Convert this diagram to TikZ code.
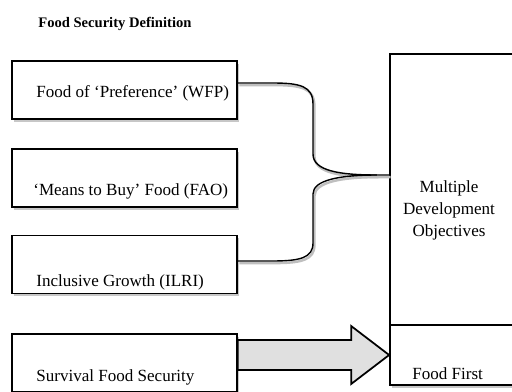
\documentclass[tikz,border=0pt]{standalone}
\usepackage{fontspec}
\setmainfont{Liberation Serif}
\usetikzlibrary{calc,shadows}

\tikzset{
  defbox/.style={draw, line width=1pt, fill=white, minimum width=4.5cm, minimum height=1.16cm,
    drop shadow={shadow xshift=1.2pt, shadow yshift=-1.6pt, fill=black, opacity=0.22}},
  goalbox/.style={draw, line width=1pt, fill=white, minimum width=2.46cm,
    drop shadow={shadow xshift=1.2pt, shadow yshift=-1.6pt, fill=black, opacity=0.22}},
  deftext/.style={inner sep=0pt, anchor=base west, font=\fontsize{9.7}{12}\selectfont},
  brace/.style={line width=0.8pt,
    preaction={draw=black!25, line width=1.4pt, transform canvas={xshift=0.8pt, yshift=-1.2pt}}},
  fatarrow/.style={draw, line width=1pt, fill=black!12, line join=miter}
}

\begin{document}
\begin{tikzpicture}[x=0.02cm, y=-0.02cm]
  \useasboundingbox (0,0) rectangle (512,392);
  \clip (0,0) rectangle (512,392);
  % title
  \node[inner sep=0pt, anchor=base west, font=\fontsize{8.3}{10}\selectfont\bfseries] (title) at (38,28) {Food Security Definition};
  % the four definition boxes
  \node[defbox] (wfp) at (124.5,90) {};
  \node[defbox] (fao) at (124.5,178) {};
  \node[defbox] (ilri) at (124.5,264.5) {};
  \node[defbox] (sfs) at (124.5,363) {};
  \node[deftext] (wfptxt) at (36,97) {Food of ‘Preference’ (WFP)};
  \node[deftext] (faotxt) at (33,195) {‘Means to Buy’ Food (FAO)};
  \node[deftext] (ilritxt) at (36,287) {Inclusive Growth (ILRI)};
  \node[deftext] (sfstxt) at (36,382) {Survival Food Security};
  % the goal boxes on the right
  \node[goalbox, minimum height=5.42cm] (mdo) at (451.5,189.5) {};
  \node[goalbox, minimum height=1.2cm] (ff) at (451.5,355) {};
  \node[align=center, inner sep=0pt, font=\fontsize{9.7}{12.5}\selectfont] (mdotxt) at (449,210) {Multiple\\Development\\Objectives};
  \node[deftext] (fftxt) at (412,380) {Food First};
  % brace joining WFP and ILRI
  \coordinate (join) at (377,175);
  \draw[brace] ($(wfp.east)+(0,-7)$) -- (272,83) .. controls (300,83) and (313,86) .. (313,104)
    -- (313,154) .. controls (313,171) and (340,175) .. (join) -- (mdo.west |- join);
  \draw[brace] ($(ilri.east)+(0,-3.5)$) -- (272,261) .. controls (300,261) and (313,258) .. (313,243)
    -- (313,194) .. controls (313,180) and (340,175) .. (join);
  % big arrow to food first
  \coordinate (tip) at (ff.west);
  \draw[fatarrow] ($(sfs.east |- tip)+(0,-15)$) -- ($(tip)+(-38,-15)$) -- ++(0,-14) -- (tip)
    -- ++(-38,29) -- ++(0,-14) -- ($(sfs.east |- tip)+(0,15)$) -- cycle;
\end{tikzpicture}
\end{document}
